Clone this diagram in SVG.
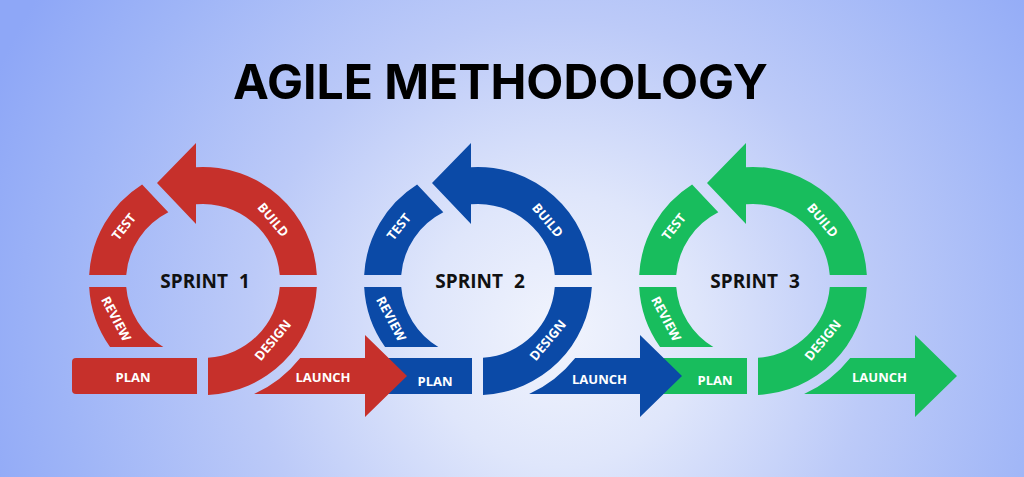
<svg xmlns="http://www.w3.org/2000/svg" xmlns:xlink="http://www.w3.org/1999/xlink" width="1024" height="477" viewBox="0 0 1024 477">
  <defs>
    <radialGradient id="bg" cx="560" cy="330" r="620" gradientUnits="userSpaceOnUse">
      <stop offset="0" stop-color="#f1f4fd"/>
      <stop offset="0.22" stop-color="#dfe6fb"/>
      <stop offset="0.5" stop-color="#bccaf8"/>
      <stop offset="0.8" stop-color="#9fb5f7"/>
      <stop offset="1" stop-color="#8ea7f7"/>
    </radialGradient>
    <!-- ring segments, drawn around a sprint centre at (0,0) -->
    <path id="seg-build" d="M -7 -113.78 A 114 114 0 0 1 113.84 -6 L 76.77 -6 A 77 77 0 0 0 -7 -76.68 L -7 -57 L -46 -98 L -7 -138 Z"/>
    <path id="seg-design" d="M 113.84 6 A 114 114 0 0 1 5 113.89 L 5 76.84 A 77 77 0 0 0 76.77 6 Z"/>
    <path id="seg-test" d="M -113.84 -6 A 114 114 0 0 1 -60.9 -96.4 L -34.7 -68.7 A 77 77 0 0 0 -76.77 -6 Z"/>
    <path id="seg-review" d="M -113.84 6 A 114 114 0 0 0 -92.95 66 L -39.66 66 A 77 77 0 0 1 -76.77 6 Z"/>
    <path id="seg-plan" d="M -6 77 L -6 113 L -127 113 Q -131 113 -131 109 L -131 81 Q -131 77 -127 77 Z"/>
    <path id="seg-launch" d="M 97.2 77 L 162 77 L 162 54 L 204 95 L 162 136 L 162 113 L 51.1 113 A 124 124 0 0 0 97.2 77 Z"/>
  </defs>
  <style>
    .red { fill: #c6302b; }
    .blue { fill: #0b4aa7; }
    .green { fill: #18bd5d; }
    .lbl { font-family: "Open Sans", "Liberation Sans", sans-serif; font-weight: 700; font-size: 13px; fill: #ffffff; text-anchor: middle; dominant-baseline: central; }
    .sprint { font-family: "Open Sans", "Liberation Sans", sans-serif; font-weight: 700; font-size: 19px; fill: #111111; text-anchor: middle; word-spacing: 6px; }
    .title { font-family: Inter, "Liberation Sans", sans-serif; font-weight: 700; font-size: 48px; fill: #000000; text-anchor: middle; }
  </style>

  <rect width="1024" height="477" fill="url(#bg)"/>

  <text class="title" x="500.5" y="99" textLength="535" lengthAdjust="spacingAndGlyphs">AGILE METHODOLOGY</text>

  <!-- Sprint 1 -->
  <g id="sprint-1" transform="translate(203 281)">
    <g id="s1-build"><use href="#seg-build" class="red"/><text class="lbl" transform="translate(70.5 -61.5) rotate(50)">BUILD</text></g>
    <g id="s1-design"><use href="#seg-design" class="red"/><text class="lbl" transform="translate(69.5 59) rotate(-50)">DESIGN</text></g>
    <g id="s1-test"><use href="#seg-test" class="red"/><text class="lbl" transform="translate(-79.5 -54.5) rotate(-52)">TEST</text></g>
    <g id="s1-review"><use href="#seg-review" class="red"/><text class="lbl" transform="translate(-86.5 37.5) rotate(62)">REVIEW</text></g>
    <g id="s1-plan"><use href="#seg-plan" class="red"/><text class="lbl" x="-70" y="96">PLAN</text></g>
    <text class="sprint" x="2" y="7">SPRINT 1</text>
  </g>

  <!-- Sprint 2 -->
  <g id="sprint-2" transform="translate(478 281)">
    <g id="s2-build"><use href="#seg-build" class="blue"/><text class="lbl" transform="translate(70 -61) rotate(50)">BUILD</text></g>
    <g id="s2-design"><use href="#seg-design" class="blue"/><text class="lbl" transform="translate(69.5 59) rotate(-50)">DESIGN</text></g>
    <g id="s2-test"><use href="#seg-test" class="blue"/><text class="lbl" transform="translate(-79.5 -54.5) rotate(-52)">TEST</text></g>
    <g id="s2-review"><use href="#seg-review" class="blue"/><text class="lbl" transform="translate(-86.5 37.5) rotate(62)">REVIEW</text></g>
    <g id="s2-plan"><use href="#seg-plan" class="blue"/><text class="lbl" x="-43" y="100">PLAN</text></g>
    <text class="sprint" x="2" y="7">SPRINT 2</text>
  </g>

  <!-- Sprint 3 -->
  <g id="sprint-3" transform="translate(753 281)">
    <g id="s3-build"><use href="#seg-build" class="green"/><text class="lbl" transform="translate(70 -61) rotate(50)">BUILD</text></g>
    <g id="s3-design"><use href="#seg-design" class="green"/><text class="lbl" transform="translate(69.5 59) rotate(-50)">DESIGN</text></g>
    <g id="s3-test"><use href="#seg-test" class="green"/><text class="lbl" transform="translate(-79.5 -54.5) rotate(-52)">TEST</text></g>
    <g id="s3-review"><use href="#seg-review" class="green"/><text class="lbl" transform="translate(-86.5 37.5) rotate(62)">REVIEW</text></g>
    <g id="s3-plan"><use href="#seg-plan" class="green"/><text class="lbl" x="-38" y="99">PLAN</text></g>
    <text class="sprint" x="2" y="7">SPRINT 3</text>
  </g>

  <!-- Launch arrows leading out of each sprint (drawn over the next sprint's plan bar) -->
  <g id="connectors">
    <g id="s1-launch" transform="translate(203 281)"><use href="#seg-launch" class="red"/><text class="lbl" x="120" y="96">LAUNCH</text></g>
    <g id="s2-launch" transform="translate(478 281)"><use href="#seg-launch" class="blue"/><text class="lbl" x="121.5" y="98">LAUNCH</text></g>
    <g id="s3-launch" transform="translate(753 281)"><use href="#seg-launch" class="green"/><text class="lbl" x="126.5" y="96">LAUNCH</text></g>
  </g>
</svg>
